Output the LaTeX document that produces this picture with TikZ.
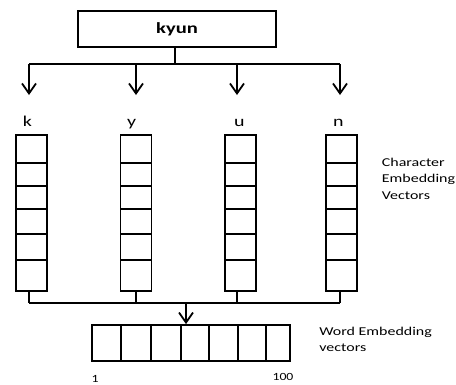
\documentclass[tikz,border=0pt]{standalone}
\usepackage{fontspec}
\setmainfont{Carlito}
\newfontfamily\wideA[FakeStretch=1.33]{Carlito}
\newfontfamily\wideB[FakeStretch=1.25]{Carlito}
\usetikzlibrary{arrows.meta}
\begin{document}
\begin{tikzpicture}[x=1pt,y=-1pt,line width=1.8pt,
  box/.style={draw,rectangle,inner sep=0pt},
  arr/.style={-{Straight Barb[length=10pt,width=14pt]}},
  lbl/.style={inner sep=0pt,text=black}]
\useasboundingbox (0,0) rectangle (456,384);
% top word box
\node[box,minimum width=198pt,minimum height=36pt] (word) at (177,29)
  {\wideA\fontsize{15.5}{18}\selectfont\bfseries kyun};
% top bus
\coordinate (btop) at (175,64);
\coordinate (t1) at (29,64);
\coordinate (t2) at (136,64);
\coordinate (t3) at (237,64);
\coordinate (t4) at (340,64);
\coordinate (a1) at (29,95);
\coordinate (a2) at (136,95);
\coordinate (a3) at (237,95);
\coordinate (a4) at (340,95);
\draw (word.south -| btop) -- (btop);
\draw (t1) -- (t4);
\foreach \i in {1,...,4}{
  \draw[arr] (t\i) -- (a\i);
}
% letters
\foreach \n/\x in {k/27.3,y/131.7,u/239.3,n/338.3}{
  \node[lbl,anchor=base] (l\n) at (\x,126.5) {\wideA\fontsize{15}{18}\selectfont \n};
}
% columns
\foreach \n/\x in {k/31.5,y/136,u/240.5,n/341.5}{
  \node[box,minimum width=31pt,minimum height=156pt] (col\n) at (\x,213) {};
  \foreach \yy in {163,186,209,234,260}{
    \draw (\x-15.5,\yy) -- (\x+15.5,\yy);
  }
}
% bottom bus
\coordinate (b1) at (29,303);
\coordinate (b2) at (136,303);
\coordinate (b3) at (237,303);
\coordinate (b4) at (340,303);
\coordinate (bm) at (186,303);
\draw (colk.south -| b1) -- (b1);
\draw (coly.south -| b2) -- (b2);
\draw (colu.south -| b3) -- (b3);
\draw (coln.south -| b4) -- (b4);
\draw (b1) -- (b4);
% word vector
\node[box,minimum width=198pt,minimum height=36pt] (wv) at (191,343) {};
\foreach \xx in {121,151,181,209,238,266}{
  \draw (\xx,325) -- (\xx,361);
}
\draw[arr] (bm) -- (wv.north -| bm);
% side labels
\node[lbl,anchor=base west] (cev) at (381,166)
  {\wideA\fontsize{12}{16.7}\selectfont\begin{tabular}[t]{@{}l@{}}Character\\Embedding\\Vectors\end{tabular}};
\node[lbl,anchor=base west] (wev) at (318.5,335)
  {\wideA\fontsize{12}{16.3}\selectfont\begin{tabular}[t]{@{}l@{}}Word Embedding\\vectors\end{tabular}};
\node[lbl,anchor=base] (one) at (95,382) {\wideB\fontsize{11}{13}\selectfont 1};
\node[lbl,anchor=base] (hund) at (283,380) {\wideB\fontsize{11}{13}\selectfont 100};
\end{tikzpicture}
\end{document}
